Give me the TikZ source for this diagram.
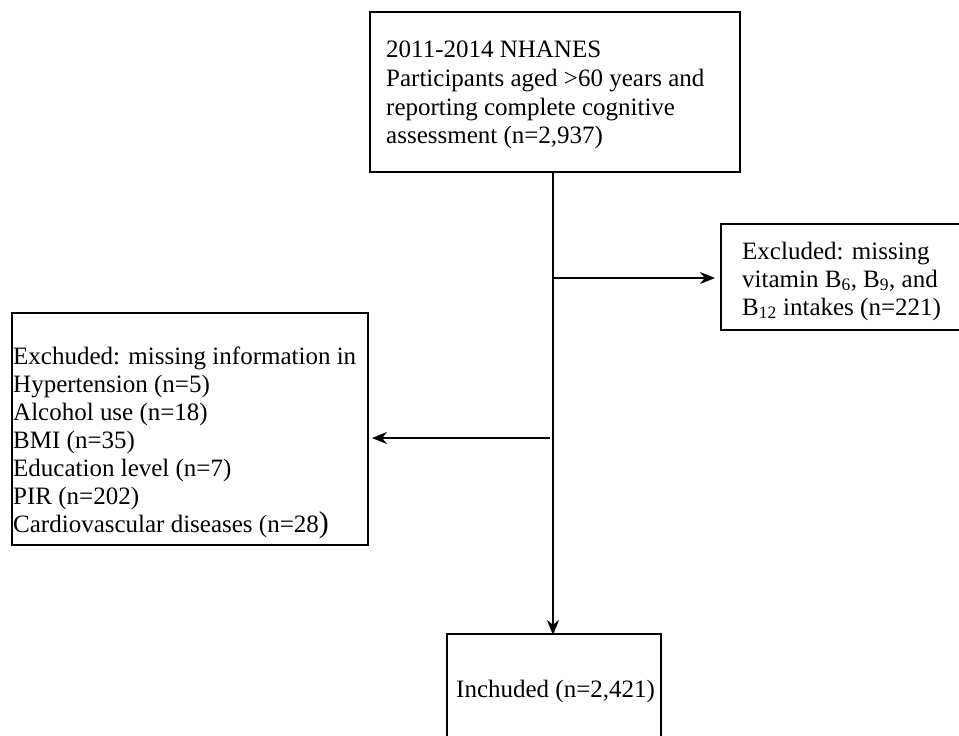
\documentclass[tikz,border=0pt]{standalone}
\usepackage{fontspec}
\setmainfont{Liberation Serif}
\usetikzlibrary{arrows.meta}
\begin{document}
\begin{tikzpicture}[x=1pt,y=-1pt,
  boxline/.style={draw=black, line width=1.8pt},
  flow/.style={draw=black, line width=1.8pt, -{Stealth[length=15pt,width=12pt]}},
  txt/.style={anchor=base west, inner sep=0pt, font=\fontsize{25}{28}\selectfont}]
\useasboundingbox (0,0) rectangle (959,736);
\clip (0,0) rectangle (959,736);
\fill[white] (0,0) rectangle (959,736);
% boxes
\draw[boxline] (370,12) rectangle (740,172);
\coordinate (topS) at (553,172);
\draw[boxline] (721,224) rectangle (990,330);
\coordinate (rightW) at (721,278);
\draw[boxline] (12,313) rectangle (368,545);
\coordinate (leftE) at (368,438);
\draw[boxline] (447,634) rectangle (661,760);
\coordinate (botN) at (553,634);
% texts
\node[txt] (t1) at (386,57) {2011-2014 NHANES};
\node[txt] (t2) at (386,86) {Participants aged >60 years and};
\node[txt] (t3) at (386,115) {reporting complete cognitive};
\node[txt] (t4) at (386,143) {assessment (n=2,937)};
\node[txt] (r1) at (742,259) {Excluded: missing};
\node[txt] (r2) at (742,287) {vitamin B\textsubscript{6}, B\textsubscript{9}, and};
\node[txt] (r3) at (742,315) {B\textsubscript{12} intakes (n=221)};
\node[txt] (l1) at (13,364) {Exchuded: missing information in};
\node[txt] (l2) at (13,392) {Hypertension (n=5)};
\node[txt] (l3) at (13,420) {Alcohol use (n=18)};
\node[txt] (l4) at (13,448) {BMI (n=35)};
\node[txt] (l5) at (13,476) {Education level (n=7)};
\node[txt] (l6) at (13,504) {PIR (n=202)};
\node[txt] (l7) at (13,532) {Cardiovascular diseases (n=28{\fontsize{30}{30}\selectfont )}};
\node[txt] (b1) at (456,697) {Inchuded (n=2,421)};
% connectors
\draw[flow] (topS) -- ([yshift=-1pt]botN);
\coordinate (brR) at (553,278);
\coordinate (brL) at (550,438);
\draw[flow] (brR) -- ([xshift=-6pt]rightW);
\draw[flow] (brL) -- ([xshift=4pt]leftE);
\end{tikzpicture}
\end{document}
